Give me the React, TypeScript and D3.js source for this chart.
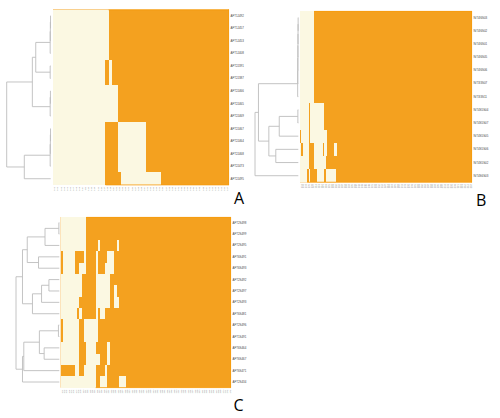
import React from 'react';
import * as d3 from 'd3';

// Cream stretches per row, as [first column, end column). Everything else is orange.
const rowsA = ['AFT1J492', 'AFT1J457', 'AFT1J453', 'AFT1J408', 'AFT2J391', 'AFT2J387', 'AFT2J466', 'AFT2J465', 'AFT2J469', 'AFT2J467', 'AFT2J464', 'AFT2J468', 'AFT2J473', 'AFT2J495'];
const creamA: number[][][] = [
  [[0, 18]], [[0, 18]], [[0, 18]], [[0, 18]],
  [[0, 17], [18, 19]], [[0, 17], [18, 19]],
  [[0, 21]], [[0, 21]], [[0, 21]],
  [[0, 17], [21, 30]], [[0, 17], [21, 30]], [[0, 17], [21, 30]], [[0, 17], [21, 30]],
  [[0, 17], [22, 35]],
];

const rowsB = ['NiT4I6S03', 'NiT4I6S02', 'NiT4I6S01', 'NiT4I6S05', 'NiT4I6S06', 'NiT3I3S07', 'NiT3I3S11', 'NiT4S5S04', 'NiT4S5S07', 'NiT4S5S05', 'NiT4S5S06', 'NiT4S5S02', 'NiT4S6S03'];
const creamB: number[][][] = [
  [[0, 10]], [[0, 10]], [[0, 10]], [[0, 10]], [[0, 10]], [[0, 10]], [[0, 10]],
  [[0, 6], [7, 17]], [[0, 6], [7, 17]],
  [[1, 6], [7, 19]],
  [[0, 1], [2, 6], [10, 16], [17, 19], [24, 26]],
  [[0, 6], [10, 18]],
  [[0, 5], [6, 7], [12, 17], [18, 25]],
];

const rowsC = ['AFT2S498', 'AFT2S499', 'AFT2S495', 'AFT6S491', 'AFT6S493', 'AFT2S492', 'AFT2S497', 'AFT2S493', 'AFT6S481', 'AFT2S496', 'AFT1S491', 'AFT6S464', 'AFT6S467', 'AFT6S471', 'AFT2S434'];
const creamC: number[][][] = [
  [[0, 11]], [[0, 11]],
  [[0, 11], [16, 17], [24, 25]],
  [[1, 6], [10, 11], [15, 16], [20, 23]],
  [[1, 6], [8, 11], [15, 16], [19, 23]],
  [[0, 9], [15, 21]],
  [[0, 9], [15, 21], [23, 24]],
  [[0, 8], [15, 21], [23, 25]],
  [[0, 7], [8, 9], [15, 16], [17, 19]],
  [[1, 8], [10, 16]],
  [[1, 8], [10, 16]],
  [[0, 8], [11, 15], [20, 21]],
  [[0, 8], [11, 17], [20, 21]],
  [[6, 8], [10, 15], [19, 20]],
  [[0, 15], [17, 20], [25, 28]],
];

// Dendrograms: a node is [height, child, child], a number is a row.
type Tree = number | [number, Tree, Tree];
const treeA: Tree = [1,
  [0.417,
    [0.34,
      [0.012, [0.008, [0.004, 0, 1], 2], 3],
      [0.012, 4, 5]],
    [0.012, [0.006, 6, 7], 8]],
  [0.6,
    [0.012, [0.008, [0.004, 9, 10], 11], 12],
    13],
];
const treeB: Tree = [1,
  [0.92,
    [0.015, [0.012, [0.01, [0.008, [0.006, [0.004, 0, 1], 2], 3], 4], 5], 6],
    [0.68,
      [0.44, [0.01, 7, 8], 9],
      [0.52, 10, 11]]],
  12,
];
const treeC: Tree = [1,
  [0.85,
    [0.74,
      [0.33, [0.01, 0, 1], 2],
      [0.48, 3, 4]],
    [0.62,
      [0.41, [0.24, 5, 6], 7],
      8]],
  [0.85,
    [0.82,
      [0.46, [0.02, 9, 10], [0.35, 11, 12]],
      13],
    14],
];

const ORANGE = '#f4a11f';
const EDGE = '#f69c0c';
const CREAM = '#fbf8e2';
const LINE = '#bdbdbd';

interface PanelProps {
  rows: string[];
  cream: number[][][];
  tree: Tree;
  columns: number;
  x0: number;
  x1: number;
  y0: number;
  y1: number;
  leafX: number;
  rootX: number;
  letter: string;
  letterX: number;
  letterY: number;
}

function Panel({ rows, cream, tree, columns, x0, x1, y0, y1, leafX, rootX, letter, letterX, letterY }: PanelProps) {
  const colIds = d3.range(columns);
  const xScale = d3.scaleBand<number>().domain(colIds).range([x0, x1]);
  const yScale = d3.scaleBand<number>().domain(d3.range(rows.length)).range([y0, y1]);
  const hScale = d3.scaleLinear().domain([0, 1]).range([leafX, rootX]);

  // elbows of the tree, the y of a node is the middle of its two children
  const path = d3.path();
  const walk = (node: Tree): [number, number] => {
    if (typeof node === 'number') return [hScale(0), yScale(node)! + yScale.bandwidth() / 2];
    const [h, a, b] = node;
    const [ax, ay] = walk(a);
    const [bx, by] = walk(b);
    const x = hScale(h);
    path.moveTo(ax, ay);
    path.lineTo(x, ay);
    path.lineTo(x, by);
    path.lineTo(bx, by);
    return [x, (ay + by) / 2];
  };
  walk(tree);

  const isCream = (row: number, col: number) => cream[row].some(([a, b]) => col >= a && col < b);
  const firstOrange = (row: number) => colIds.find(c => !isCream(row, c)) ?? 0;
  const lastRow = rows.length - 1;

  return (
    <g>
      <path d={path.toString()} fill="none" stroke={LINE} strokeWidth={0.9} />
      {/* orange ground, cream runs on top, crisp so that rows do not show seams */}
      <rect x={x0} y={y0} width={x1 - x0} height={y1 - y0} fill={ORANGE} />
      <g shapeRendering="crispEdges">
        {cream.map((runs, r) =>
          runs.map(([a, b]) => (
            <rect
              key={`${r}-${a}`}
              x={xScale(a)}
              y={yScale(r)}
              width={xScale(b - 1)! + xScale.bandwidth() - xScale(a)!}
              height={yScale.bandwidth()}
              fill={CREAM}
            />
          ))
        )}
      </g>
      <line x1={xScale(d3.max(cream[0], d => d[1])!)} x2={x1} y1={y0 + 0.4} y2={y0 + 0.4} stroke={EDGE} strokeWidth={0.8} />
      <line x1={x1 - 0.4} x2={x1 - 0.4} y1={y0} y2={y1} stroke={EDGE} strokeWidth={0.8} />
      <line x1={xScale(firstOrange(lastRow))} x2={x1} y1={y1 - 0.1} y2={y1 - 0.1} stroke={EDGE} strokeWidth={0.8} />
      {rows.map((label, r) => (
        <text
          key={label + r}
          x={x1 + 1.5}
          y={yScale(r)! + yScale.bandwidth() / 2}
          dy="0.35em"
          fontSize={2.9}
          fontFamily="Liberation Sans"
          fill="#444"
        >
          {label}
        </text>
      ))}
      {colIds.map(c => {
        const cx = xScale(c)! + xScale.bandwidth() / 2;
        return (
          <text
            key={c}
            transform={`translate(${cx},${y1 + 2}) rotate(-90)`}
            textAnchor="end"
            dy="0.35em"
            fontSize={2.3}
            fontFamily="Liberation Sans"
            fill="#888"
          >
            {String(c + 101)}
          </text>
        );
      })}
      <text x={letterX} y={letterY} fontSize={16} fontFamily="Open Sans" fill="#000">
        {letter}
      </text>
    </g>
  );
}

export default function App() {
  return (
    <svg
      width={500}
      height={418}
      viewBox="0 0 500 418"
      style={{ position: 'absolute', left: 0, top: 0, display: 'block', background: '#fff' }}
    >
      <Panel rows={rowsA} cream={creamA} tree={treeA} columns={57}
        x0={53} x1={229} y0={9.5} y1={185} leafX={50.7} rootX={6.7}
        letter="A" letterX={234} letterY={204} />
      <Panel rows={rowsB} cream={creamB} tree={treeB} columns={120}
        x0={300} x1={472} y0={11} y1={182.3} leafX={298.3} rootX={255}
        letter="B" letterX={476} letterY={206} />
      <Panel rows={rowsC} cream={creamC} tree={treeC} columns={73}
        x0={60.7} x1={231} y0={217} y1={387.7} leafX={59.3} rootX={16}
        letter="C" letterX={233.5} letterY={411} />
    </svg>
  );
}
